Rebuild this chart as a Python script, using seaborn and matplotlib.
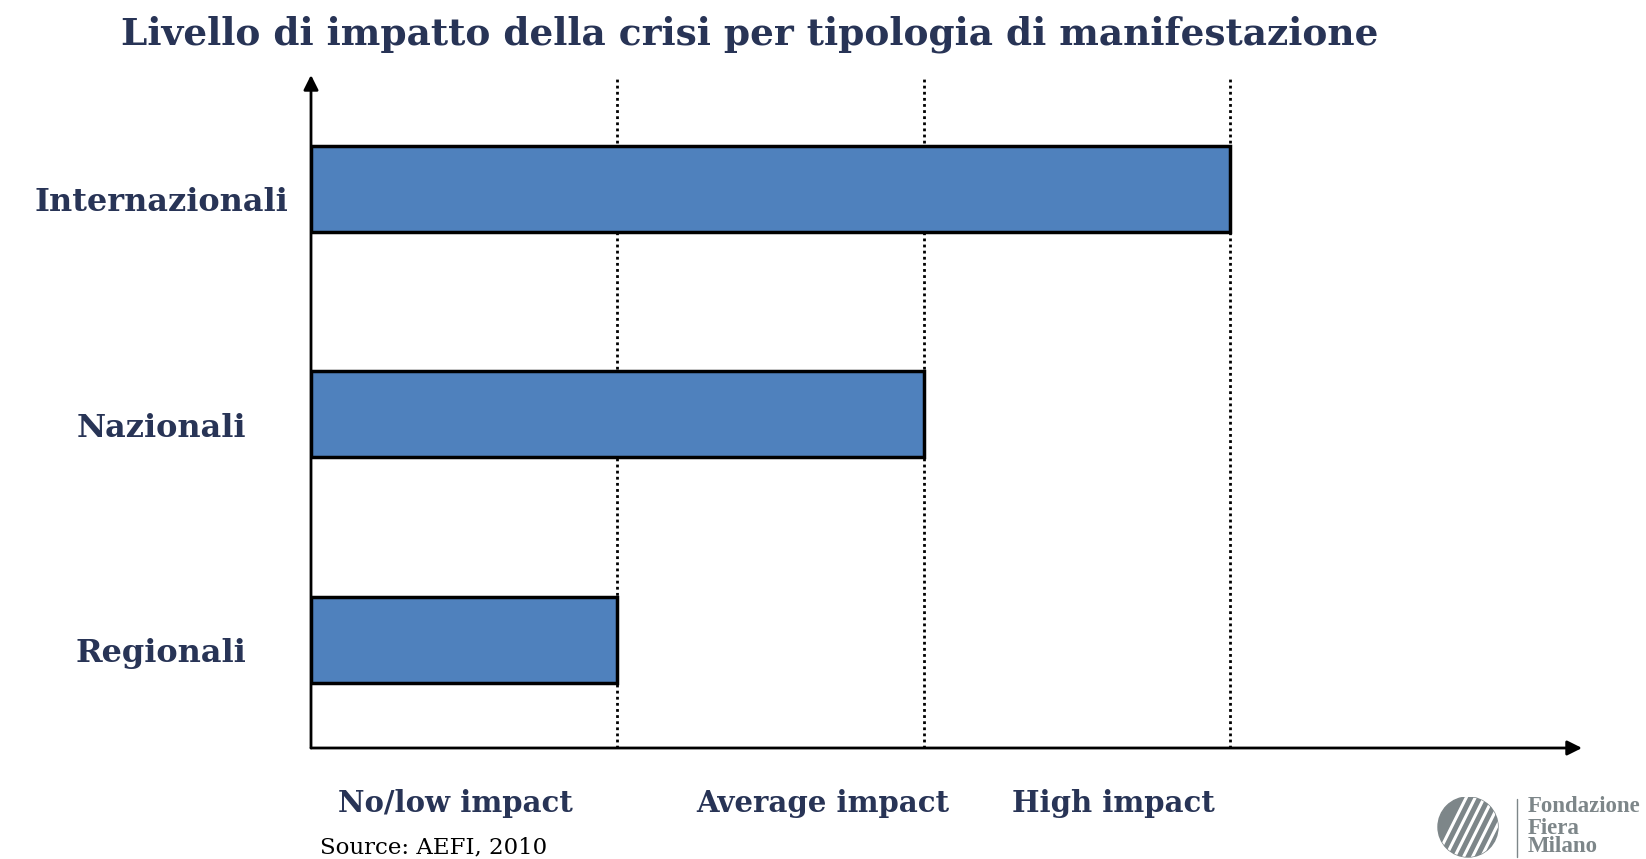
import numpy as np
import matplotlib
matplotlib.use('Agg')
import matplotlib.pyplot as plt
import matplotlib.transforms as mtransforms
import seaborn as sns
from matplotlib.patches import Circle

# data
categories = ['Internazionali', 'Nazionali', 'Regionali']
impact_level = [3, 2, 1]
level_ticks = [1, 2, 3]
level_labels = ['No/low impact', 'Average impact', 'High impact']
level_label_pos = [0.47, 1.67, 2.62]

title = 'Livello di impatto della crisi per tipologia di manifestazione'
source = 'Source: AEFI, 2010'

NAVY = '#283456'
BLUE = '#4f81bd'
GREY = '#7d8689'
W, H = 1646, 859

sns.set_style('white')
plt.rcParams['font.family'] = ['DejaVu Serif']

fig = plt.figure(figsize=(W / 100, H / 100), dpi=100)
ax = fig.add_axes([311 / W, 1 - 748 / H, (1582 - 311) / W, (748 - 75) / H])

sns.barplot(x=impact_level, y=categories, orient='h', color=BLUE,
            edgecolor='black', linewidth=2.5, width=0.38, saturation=1, ax=ax)

ax.set_xlim(0, 4.15)
ax.set_ylim(2.48, -0.505)

# dotted level lines
ax.vlines(level_ticks, 2.48, -0.49, colors='black', linestyles=(0, (1, 1.2)),
          linewidth=2, zorder=0)

for s in ax.spines.values():
    s.set_visible(False)
ax.set_xticks([])
ax.set_yticks([])
ax.set_xlabel('')
ax.set_ylabel('')

# category labels, a bit below the bar centres like the original slide
down = mtransforms.ScaledTranslation(0, -14 / 100, fig.dpi_scale_trans)
ytrans = ax.get_yaxis_transform() + down
for i, cat in enumerate(categories):
    ax.text(-0.118, i, cat, transform=ytrans, ha='center', va='center',
            fontsize=23, fontweight='bold', color=NAVY)

# axis arrows
arrow = dict(arrowstyle='-|>', color='black', lw=2, mutation_scale=22,
             shrinkA=0, shrinkB=0)
ax.annotate('', xy=(0, 1), xytext=(0, 0), xycoords='axes fraction', arrowprops=arrow)
ax.annotate('', xy=(1, 0), xytext=(0, 0), xycoords='axes fraction', arrowprops=arrow)

# level labels under the axis
for xpos, lab in zip(level_label_pos, level_labels):
    ax.text(xpos, -0.082, lab, transform=ax.get_xaxis_transform(), ha='center',
            va='center', fontsize=21, fontweight='bold', color=NAVY)

fig.text(750 / W, 1 - 34 / H, title, ha='center', va='center', fontsize=27,
         fontweight='bold', color=NAVY)
fig.text(320 / W, 1 - 847 / H, source, ha='left', va='center', fontsize=16.5,
         color='black')

# logo
lax = fig.add_axes([1430 / W, 0, 216 / W, 62 / H])
lax.set_xlim(1430, 1646)
lax.set_ylim(859, 797)
lax.axis('off')
circ = Circle((1468, 827), 30, color=GREY)
lax.add_patch(circ)
for k in range(6):
    ln, = lax.plot([1430 + k * 9, 1470 + k * 9], [870, 790], color='white', lw=2.2)
    ln.set_clip_path(circ)
lax.plot([1517, 1517], [799, 857], color=GREY, lw=1)
for yy, word in zip([807, 828, 847], ['Fondazione', 'Fiera', 'Milano']):
    lax.text(1528, yy, word, ha='left', va='center', fontsize=16.5,
             fontweight='bold', color=GREY, family='Liberation Serif')

fig.savefig('out.png', dpi=100)
